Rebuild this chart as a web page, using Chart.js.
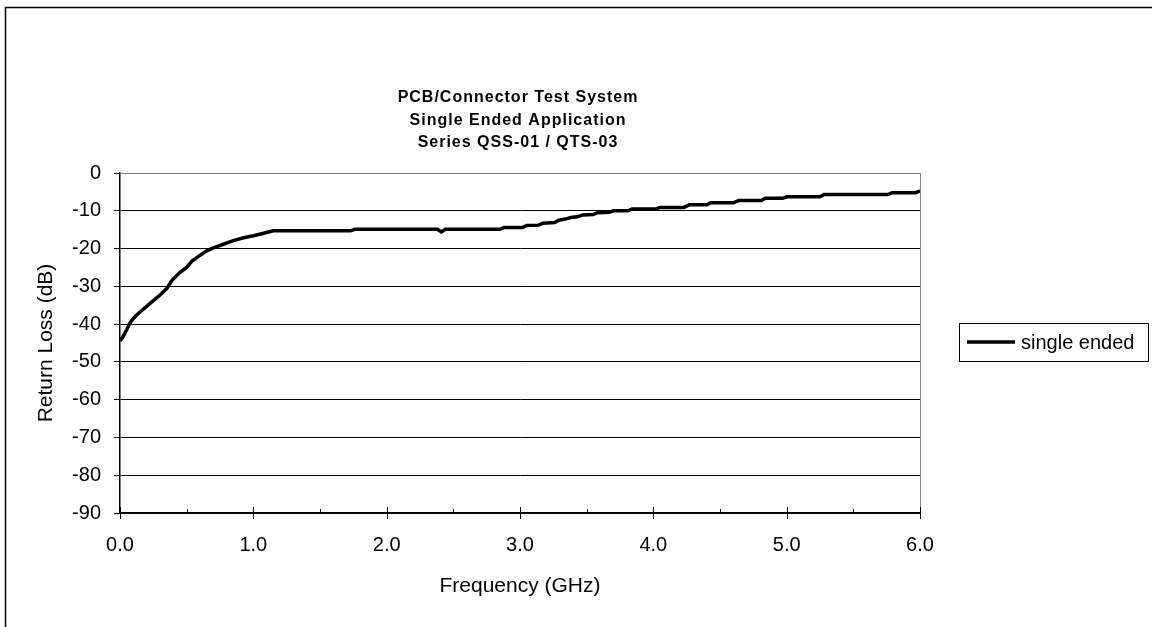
<!DOCTYPE html>
<html>
<head>
<meta charset="utf-8">
<script src="https://cdn.jsdelivr.net/npm/chart.js@4"></script>
<style>
  html, body { margin: 0; padding: 0; background: #fff; }
  #wrap { width: 1152px; height: 627px; position: relative; }
</style>
</head>
<body>
<div id="wrap"><canvas id="myChart" width="1152" height="627"></canvas></div>
<script>
// chart data
const titleLines = ['PCB/Connector Test System', 'Single Ended Application', 'Series QSS-01 / QTS-03'];
const seriesLabel = 'single ended';
const freqGHz = [
    0.00, 0.02, 0.05, 0.075, 0.10, 0.125, 0.15, 0.20, 0.25, 0.30,
    0.35, 0.39, 0.45, 0.50, 0.54, 0.60, 0.65, 0.70, 0.78, 0.85,
    0.92, 1.00, 1.07, 1.15, 1.73, 1.76, 2.38, 2.41, 2.44, 2.85,
    2.88, 3.02, 3.05, 3.14, 3.17, 3.26, 3.29, 3.34, 3.38, 3.43,
    3.47, 3.55, 3.58, 3.67, 3.70, 3.81, 3.84, 4.02, 4.05, 4.23,
    4.27, 4.40, 4.43, 4.60, 4.64, 4.81, 4.84, 4.97, 5.00, 5.25,
    5.28, 5.76, 5.79, 5.97, 6.00
];
const returnLossDb = [
    -44.5, -43.5, -41.5, -39.7, -38.5, -37.6, -36.8, -35.3, -33.8, -32.3,
    -30.6, -28.4, -26.3, -25.0, -23.3, -21.8, -20.6, -19.8, -18.8, -17.9,
    -17.2, -16.6, -16.0, -15.3, -15.3, -14.9, -14.9, -15.6, -14.9, -14.9,
    -14.4, -14.4, -13.9, -13.8, -13.3, -13.1, -12.5, -12.2, -11.8, -11.6,
    -11.1, -11.0, -10.5, -10.4, -10.0, -10.0, -9.5, -9.5, -9.1, -9.1,
    -8.4, -8.4, -7.9, -7.9, -7.3, -7.3, -6.7, -6.7, -6.3, -6.3,
    -5.7, -5.7, -5.2, -5.2, -4.7
];
const xTicks = [0, 1, 2, 3, 4, 5, 6];
const yMin = -90;
const yMax = 0;

const FONT = 'Arial, "Liberation Sans", sans-serif';

// frame, title, tick marks, plot border and legend box
const excelLook = {
    id: 'excelLook',
    beforeDraw(chart) {
        const ctx = chart.ctx;
        ctx.save();
        ctx.fillStyle = '#fff';
        ctx.fillRect(0, 0, chart.width, chart.height);
        ctx.strokeStyle = '#000';
        ctx.lineWidth = 1.5;
        ctx.beginPath();
        ctx.moveTo(5.5, chart.height);
        ctx.lineTo(5.5, 7.5);
        ctx.lineTo(chart.width, 7.5);
        ctx.stroke();
        ctx.restore();
    },
    afterDraw(chart) {
        const ctx = chart.ctx;
        const area = chart.chartArea;
        const xs = chart.scales.x;
        ctx.save();

        // title
        ctx.fillStyle = '#000';
        ctx.font = 'bold 16px ' + FONT;
        ctx.letterSpacing = '1px';
        ctx.textAlign = 'center';
        ctx.textBaseline = 'middle';
        const cx = (area.left + area.right) / 2 - 2;
        titleLines.forEach((line, i) => ctx.fillText(line, cx, 98 + i * 22.5));
        ctx.letterSpacing = '0px';

        // plot border on the right
        ctx.strokeStyle = '#808080';
        ctx.lineWidth = 1;
        ctx.beginPath();
        ctx.moveTo(Math.round(area.right) + 0.5, area.top);
        ctx.lineTo(Math.round(area.right) + 0.5, area.bottom);
        ctx.stroke();

        // x tick marks: majors cross the axis, minors point up
        ctx.strokeStyle = '#000';
        const yb = Math.round(area.bottom);
        for (let v = 0; v <= 6.001; v += 0.5) {
            const px = Math.round(xs.getPixelForValue(v)) + 0.5;
            const major = Math.abs(v - Math.round(v)) < 1e-6;
            ctx.beginPath();
            ctx.moveTo(px, major ? yb - 6 : yb - 4);
            ctx.lineTo(px, major ? yb + 6 : yb);
            ctx.stroke();
        }

        // legend box
        const ds = chart.data.datasets[0];
        ctx.strokeStyle = '#000';
        ctx.lineWidth = 1;
        ctx.strokeRect(959.5, 323.5, 189, 38);
        ctx.strokeStyle = ds.borderColor;
        ctx.lineWidth = ds.borderWidth;
        ctx.beginPath();
        ctx.moveTo(967, 342);
        ctx.lineTo(1015, 342);
        ctx.stroke();
        ctx.fillStyle = '#000';
        ctx.font = '20px ' + FONT;
        ctx.textAlign = 'left';
        ctx.fillText(ds.label, 1021, 343);
        ctx.restore();
    }
};

const points = freqGHz.map((f, i) => ({ x: f, y: returnLossDb[i] }));

const config = {
    type: 'line',
    data: {
        datasets: [{
            label: seriesLabel,
            data: points,
            borderColor: '#000',
            borderWidth: 3.5,
            pointRadius: 0,
            tension: 0,
            fill: false
        }]
    },
    options: {
        responsive: false,
        animation: false,
        events: [],
        layout: {
            padding: { top: 173, right: 232, bottom: 24, left: 30 }
        },
        plugins: {
            legend: { display: false },
            tooltip: { enabled: false },
            title: { display: false }
        },
        scales: {
            x: {
                type: 'linear',
                min: 0,
                max: 6,
                afterFit: (scale) => { scale.height = 90; },
                afterBuildTicks: (scale) => {
                    scale.ticks = xTicks.map(v => ({ value: v }));
                },
                ticks: {
                    color: '#000',
                    font: { family: FONT, size: 20 },
                    padding: 20,
                    maxRotation: 0,
                    autoSkip: false,
                    callback: (v) => Number(v).toFixed(1)
                },
                grid: { drawOnChartArea: false, drawTicks: false },
                border: { color: '#000', width: 1.5 },
                title: {
                    display: true,
                    text: 'Frequency (GHz)',
                    color: '#000',
                    font: { family: FONT, size: 21 },
                    padding: 4
                }
            },
            y: {
                type: 'linear',
                min: yMin,
                max: yMax,
                afterFit: (scale) => { scale.width = 90; },
                ticks: {
                    stepSize: 10,
                    color: '#000',
                    font: { family: FONT, size: 20 },
                    padding: 13
                },
                grid: {
                    color: (c) => (c.tick && c.tick.value === 0 ? '#808080' : '#000'),
                    lineWidth: 1,
                    tickLength: 6,
                    tickColor: '#000'
                },
                border: { color: '#000', width: 1.5 },
                title: {
                    display: true,
                    text: 'Return Loss (dB)',
                    color: '#000',
                    font: { family: FONT, size: 21 },
                    padding: 4
                }
            }
        }
    },
    plugins: [excelLook]
};

const ctx = document.getElementById('myChart').getContext('2d');
if (ctx) {
    new Chart(ctx, config);
}
</script>
</body>
</html>
